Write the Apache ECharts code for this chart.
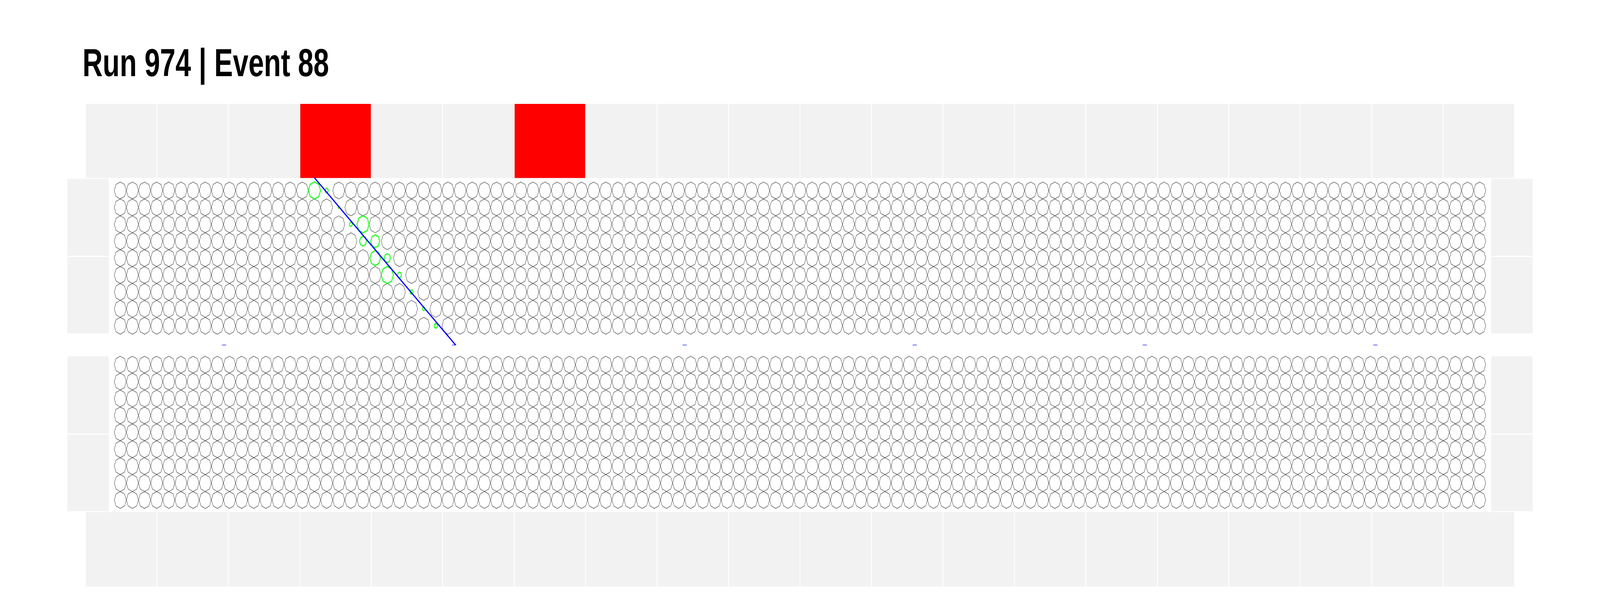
<!DOCTYPE html>
<html>
<head>
<meta charset="utf-8">
<script src="https://cdn.jsdelivr.net/npm/echarts@6/dist/echarts.min.js"></script>
<style>
html, body { margin: 0; padding: 0; background: #fff; overflow: hidden; }
#main { width: 100vw; height: 100vh; }
</style>
</head>
<body>
<div id="main"></div>
<script>
// 数据
var runNo = 974
var eventNo = 88
var nWireCols = 113            // 每层丝数
var nWireRows = 9
var nPaddles = 20              // 上下闪烁体条数
var firedPaddles = [3, 6]      // 触发的上闪烁体
// 击中: 列, 行(上模块), 电荷(相对)
var hitCol = [16, 17, 18, 19, 20, 20, 21, 21, 22, 22, 23, 24, 25, 26]
var hitRow = [0, 0, 1, 2, 2, 3, 3, 4, 4, 5, 5, 6, 7, 8]
var hitCharge = [1.0, 0.27, 0.1, 0.24, 1.0, 0.57, 0.74, 0.87, 0.51, 1.0, 0.33, 0.25, 0.2, 0.28]
// 径迹 (探测器坐标)
var trackU = [16.5, 28.13]
var trackV = [-0.25, 9.64]
// 小标记
var markU = [9.05, 28.0, 47.0, 65.95, 84.9, 103.9]
var markV = [9.64, 9.64, 9.64, 9.64, 9.64, 9.64]

// 布局 (探测器坐标, 1 = 丝间距)
var lowerOff = 10.3
var topBand = [-4.654, -0.203]
var botBand = [19.48, 23.954]
var paddleSpan = [-2.368, 115.368]
var sideL = [-3.893, -0.414]
var sideR = [113.414, 116.893]
var sideUp = [-0.22, 4.4, 8.989]
var sideLo = [10.28, 14.9, 19.497]

// 画布按 5796x1572 缩放 (窗口可能更小)
var Sx = window.innerWidth / 5796
var Sy = window.innerHeight / 1572
var Sw = Math.max(Sx, Sy) // 线宽

var pcolor = '#f2f2f2'
var octagon = 'path://M0,-1L0.7071,-0.7071L1,0L0.7071,0.7071L0,1L-0.7071,0.7071L-1,0L-0.7071,-0.7071Z'

// 闪烁体/侧板矩形
var rects = []
var w = (paddleSpan[1] - paddleSpan[0]) / nPaddles
for (let i = 0; i < nPaddles; i++) {
    let x0 = paddleSpan[0] + i * w
    rects.push([x0, x0 + w, topBand[0], topBand[1], firedPaddles.indexOf(i) >= 0 ? 1 : 0])
    rects.push([x0, x0 + w, botBand[0], botBand[1], 0])
}
;[sideL, sideR].forEach(s => {
    ;[sideUp, sideLo].forEach(b => {
        rects.push([s[0], s[1], b[0], b[1], 0])
        rects.push([s[0], s[1], b[1], b[2], 0])
    })
})

// 丝 (去掉被击中的)
var hitKey = {}
hitCol.forEach((c, i) => { hitKey[c + '_' + hitRow[i]] = true })
var wires = []
for (let r = 0; r < nWireRows; r++) {
    for (let c = 0; c < nWireCols; c++) {
        if (!hitKey[c + '_' + r]) wires.push([c + 0.5, r + 0.5])
        wires.push([c + 0.5, lowerOff + r + 0.5])
    }
}
var hits = hitCol.map((c, i) => [c + 0.5, hitRow[i] + 0.5, hitCharge[i]])

function chart_init() {
    var option = {
        animation: false,
        backgroundColor: '#fff',
        graphic: [{
            type: 'text',
            x: 299 * Sx,
            y: 167.5 * Sy,
            scaleX: Sx / Sy,
            style: {
                text: 'Run ' + runNo + ' | Event ' + eventNo,
                font: 'bold ' + (101 * Sy) + 'px "Liberation Sans", Arial, sans-serif',
                fill: '#000',
                align: 'left',
                verticalAlign: 'middle'
            }
        }],
        grid: {
            left: 413.7 * Sx,
            right: 413.7 * Sx,
            top: 466 * Sy,
            height: 19.3 * 43.3 * Sy,
            show: false
        },
        xAxis: { type: 'value', min: 0, max: nWireCols, show: false },
        yAxis: { type: 'value', min: 0, max: 19.3, inverse: true, show: false },
        series: [
            {
                name: 'panels',
                type: 'custom',
                clip: false,
                z: 1,
                data: rects,
                renderItem: function (params, api) {
                    var p0 = api.coord([api.value(0), api.value(2)])
                    var p1 = api.coord([api.value(1), api.value(3)])
                    var gx = 1.5 * Sx, gy = 1.5 * Sy // 白边
                    return {
                        type: 'rect',
                        shape: {
                            x: Math.min(p0[0], p1[0]) + gx,
                            y: Math.min(p0[1], p1[1]) + gy,
                            width: Math.abs(p1[0] - p0[0]) - 2 * gx,
                            height: Math.abs(p1[1] - p0[1]) - 2 * gy
                        },
                        style: { fill: api.value(4) ? '#ff0000' : pcolor }
                    }
                }
            },
            {
                name: 'wires',
                type: 'scatter',
                large: false,
                z: 2,
                symbol: octagon,
                symbolSize: [43.6 * Sx, 43.4 * Sy],
                itemStyle: {
                    color: 'rgba(0,0,0,0)',
                    borderColor: '#000',
                    borderWidth: 1
                },
                emphasis: { disabled: true },
                data: wires
            },
            {
                name: 'hits',
                type: 'scatter',
                z: 3,
                symbol: octagon,
                symbolSize: function (val) { return [44 * Sx * val[2], 44 * Sy * val[2]] },
                itemStyle: {
                    color: 'rgba(0,0,0,0)',
                    borderColor: '#00ff00',
                    borderWidth: 3 * Sw
                },
                data: hits
            },
            {
                name: 'track',
                type: 'line',
                clip: false,
                z: 4,
                symbol: 'none',
                lineStyle: { color: '#0000ff', width: 3 * Sw },
                data: trackU.map((u, i) => [u, trackV[i]])
            },
            {
                name: 'marks',
                type: 'custom',
                clip: false,
                z: 5,
                data: markU.map((u, i) => [u, markV[i]]),
                renderItem: function (params, api) {
                    var p = api.coord([api.value(0), api.value(1)])
                    return {
                        type: 'line',
                        shape: { x1: p[0] - 7.5 * Sx, y1: p[1], x2: p[0] + 7.5 * Sx, y2: p[1] },
                        style: { stroke: '#0000ff', lineWidth: 1.3 * Sw }
                    }
                }
            }
        ]
    }
    let chart = echarts.init(document.getElementById('main'))
    chart.setOption(option)
}
chart_init()
</script>
</body>
</html>
